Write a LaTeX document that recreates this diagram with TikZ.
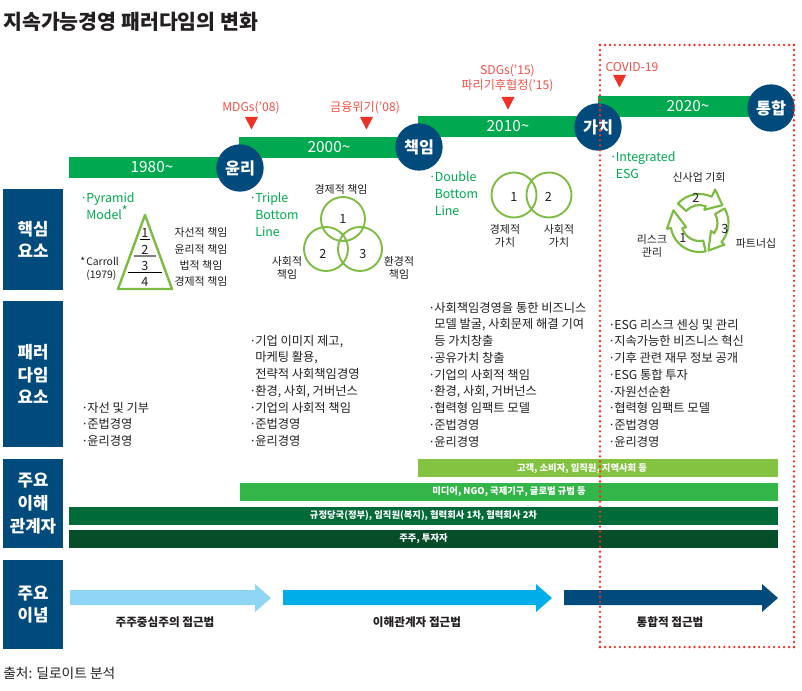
\documentclass[tikz,border=0pt]{standalone}
\usepackage{fontspec}
\setmainfont{Noto Sans CJK KR}
\usetikzlibrary{arrows,backgrounds}
\definecolor{navy}{HTML}{004A7C}
\definecolor{barGreen}{HTML}{00A84F}
\definecolor{leafGreen}{HTML}{7DBB42}
\definecolor{eventRed}{HTML}{EE3124}
\definecolor{inkGray}{HTML}{231F20}
\definecolor{skyBlue}{HTML}{8FD6F5}
\definecolor{oceanBlue}{HTML}{00ADE8}
\definecolor{stakeA}{HTML}{84C341}
\definecolor{stakeB}{HTML}{33B549}
\definecolor{stakeC}{HTML}{006B38}
\definecolor{stakeD}{HTML}{064D2A}
\newcommand{\dotitem}{\makebox[4.5pt][l]{·}}
\newcommand{\dotcont}{\hspace*{4.5pt}}
\tikzset{
  basetext/.style={inner sep=0pt,text=inkGray,align=center,yshift=-0.6pt},
  listtext/.style={basetext,anchor=north west,align=left,font=\fontsize{9.2}{12.55}\selectfont},
  greentext/.style={basetext,anchor=north west,align=left,text=barGreen,font=\fontsize{9.3}{12.7}\selectfont},
  smalltext/.style={basetext,font=\fontsize{8.2}{10.2}\selectfont},
  numtext/.style={basetext,font=\fontsize{9.5}{11}\selectfont},
  redtext/.style={basetext,text=eventRed!85!white,font=\fontsize{9.1}{11.2}\selectfont},
  sidebox/.style={fill=navy,text=white,minimum width=45pt,inner sep=0pt,align=center,font=\fontsize{12.6}{17}\selectfont\bfseries},
  yearbar/.style={fill=barGreen,text=white,minimum height=15.75pt,inner sep=0pt,font=\fontsize{11.5}{12}\selectfont},
  stageball/.style={circle,fill=navy,text=white,minimum size=35.5pt,inner sep=0pt,font=\fontsize{12.2}{13}\selectfont\bfseries},
  stakebar/.style={minimum height=13.5pt,inner sep=0pt,text=white,font=\fontsize{7}{8}\selectfont\bfseries},
  aimtext/.style={basetext,font=\fontsize{8.7}{10}\selectfont\bfseries},
  ring/.style={draw=leafGreen,line width=1.4pt},
}
\begin{document}
\begin{tikzpicture}[x=0.75pt,y=-0.75pt,join=round] % Paradigm Chart
   \useasboundingbox (0,0) rectangle (802,691);
   \node[basetext,anchor=west,font=\fontsize{15.4}{17}\selectfont\bfseries] (title) at (3,21) {지속가능경영 패러다임의 변화};
   % Side Boxes
   \node[sidebox,minimum height=75.75pt] (core) at (33,239.5) {핵심\\요소};
   \node[sidebox,minimum height=109.5pt] (para) at (33,374) {패러\\다임\\요소};
   \node[sidebox,minimum height=66.75pt] (stake) at (33,503.5) {주요\\이해\\관계자};
   \node[sidebox,minimum height=66.75pt] (idea) at (33,604.5) {주요\\이념};
   % Timeline
   \node[yearbar,minimum width=124.5pt] (bara) at (152,167.5) {1980\textasciitilde};
   \node[yearbar,minimum width=135pt] (barb) at (329,147.5) {2000\textasciitilde};
   \node[yearbar,minimum width=135pt] (barc) at (508,126.5) {2010\textasciitilde};
   \node[yearbar,minimum width=135pt] (bard) at (688,106.5) {2020\textasciitilde};
   \node[stageball] (ballb) at (240,168) {윤리};
   \node[stageball] (ballc) at (419,147) {책임};
   \node[stageball] (balld) at (598,127) {가치};
   \node[stageball] (balle) at (771,108) {통합};
   % Events
   \node[redtext] (mdg) at (251,107) {MDGs(’08)};
   \node[redtext] (crisis) at (365,107) {금융위기(’08)};
   \node[redtext] (sdg) at (507.5,77) {SDGs(’15)\\파리기후협정(’15)};
   \node[redtext] (covid) at (632,66) {COVID-19};
   \foreach \tx/\ty in {251.5/117,366.5/117,508/97,619.5/75}
      \fill[eventRed] (\tx-6.5,\ty)--(\tx+6.5,\ty)--(\tx,\ty+12.5)--cycle;
   % Pyramid
   \node[greentext] (pyr) at (80,191.5) {\dotitem Pyramid\\\dotcont Model\raisebox{3pt}{*}};
   \node[basetext,anchor=north west,align=left,font=\fontsize{7.8}{9.8}\selectfont] (carroll) at (80,256) {\makebox[4.5pt][l]{*}Carroll\\\hspace*{4.5pt}(1979)};
   \draw[ring,line width=1.8pt] (145,215)--(172,289)--(118,289)--cycle;
   \draw[line width=.7pt] (140,239)--(150,239);
   \draw[line width=.9pt,black!50] (134,256)--(156,256);
   \draw[line width=.7pt] (128,272)--(162,272);
   \node[numtext] (pa) at (145,232) {1};
   \node[numtext] (pb) at (145,249) {2};
   \node[numtext] (pc) at (145,265) {3};
   \node[numtext] (pd) at (145,281) {4};
   \node[smalltext] (la) at (201,232) {자선적 책임};
   \node[smalltext] (lb) at (201,249) {윤리적 책임};
   \node[smalltext] (lc) at (201,265) {법적 책임};
   \node[smalltext] (ld) at (201,281) {경제적 책임};
   % Triple Bottom Line
   \node[greentext] (tbl) at (249,191.5) {\dotitem Triple\\\dotcont Bottom\\\dotcont Line};
   \draw[ring] (343,219) circle (22) (326,249) circle (22) (360,249) circle (22);
   \node[numtext] (ta) at (343,218) {1};
   \node[numtext] (tb) at (323,253) {2};
   \node[numtext] (tc) at (363,253) {3};
   \node[smalltext] (te) at (341,189) {경제적 책임};
   \node[smalltext] (ts) at (287,267) {사회적\\책임};
   \node[smalltext] (tv) at (399,267) {환경적\\책임};
   % Double Bottom Line
   \node[greentext] (dbl) at (428.5,170.5) {\dotitem Double\\\dotcont Bottom\\\dotcont Line};
   \draw[ring] (514,195) circle (22.5) (549,195) circle (22.5);
   \node[numtext] (da) at (514,196) {1};
   \node[numtext] (db) at (548.5,196) {2};
   \node[smalltext] (de) at (505,235) {경제적\\가치};
   \node[smalltext] (ds) at (559,235) {사회적\\가치};
   % Integrated ESG
   \node[greentext] (esg) at (609.5,150.5) {\dotitem Integrated\\\dotcont ESG};
   \begin{scope}[shift={(699.5,223)},y=0.75pt]
      \foreach \t/\b/\e/\i/\o in {138/65/38/70/37,30/-41/-72/-35/33,-78/-170/-206/-163/33}
         \draw[leafGreen,line width=1.6pt,fill=white] (\t:29) arc (\t:\b:29) -- (\b:\o) -- (\e:29) -- (\i:14) -- (\i:18) arc (\i:\t:18) -- cycle;
   \end{scope}
   \node[numtext] (ib) at (696,197) {2};
   \node[numtext] (ic) at (725,228) {3};
   \node[numtext] (ia) at (683,237) {1};
   \node[smalltext] (io) at (699,177) {신사업 기회};
   \node[smalltext] (ir) at (652,245) {리스크\\관리};
   \node[smalltext] (ip) at (756,243) {파트너십};
   % Paradigm Lists
   \node[listtext] (lista) at (81,401) {\dotitem 자선 및 기부\\\dotitem 준법경영\\\dotitem 윤리경영};
   \node[listtext] (listb) at (249,334) {\dotitem 기업 이미지 제고,\\\dotcont 마케팅 활용,\\\dotcont 전략적 사회책임경영\\\dotitem 환경, 사회, 거버넌스\\\dotitem 기업의 사회적 책임\\\dotitem 준법경영\\\dotitem 윤리경영};
   \node[listtext] (listc) at (428,301) {\dotitem 사회책임경영을 통한 비즈니스\\\dotcont 모델 발굴, 사회문제 해결 기여\\\dotcont 등 가치창출\\\dotitem 공유가치 창출\\\dotitem 기업의 사회적 책임\\\dotitem 환경, 사회, 거버넌스\\\dotitem 협력형 임팩트 모델\\\dotitem 준법경영\\\dotitem 윤리경영};
   \node[listtext] (listd) at (608,318) {\dotitem ESG 리스크 센싱 및 관리\\\dotitem 지속가능한 비즈니스 혁신\\\dotitem 기후 관련 재무 정보 공개\\\dotitem ESG 통합 투자\\\dotitem 자원선순환\\\dotitem 협력형 임팩트 모델\\\dotitem 준법경영\\\dotitem 윤리경영};
   % Stakeholders
   \node[stakebar,fill=stakeA,minimum width=270pt] (stka) at (598,468) {};
   \node[stakebar] (stkat) at (582,468.5) {고객, 소비자, 임직원, 지역사회 등};
   \node[stakebar,fill=stakeB,minimum width=403.5pt] (stkb) at (509,492) {미디어, NGO, 국제기구, 글로벌 규범 등};
   \node[stakebar,fill=stakeC,minimum width=531.75pt] (stkc) at (423.5,516) {규정당국(정부), 임직원(복지), 협력회사 1차, 협력회사 2차};
   \node[stakebar,fill=stakeD,minimum width=531.75pt] (stkd) at (423.5,539) {주주, 투자자};
   % Approach Arrows
   \foreach \xa/\xb/\xc/\col in {70/255/271/skyBlue,283/536/552/oceanBlue,564/762/778/navy}
      \fill[fill=\col] (\xa,590)--(\xb,590)--(\xb,584)--(\xc,598)--(\xb,612)--(\xb,605)--(\xa,605)--cycle;
   \node[aimtext] (aima) at (165,621) {주주중심주의 접근법};
   \node[aimtext] (aimb) at (417,621) {이해관계자 접근법};
   \node[aimtext] (aimc) at (670,621) {통합적 접근법};
   \node[basetext,anchor=west,font=\fontsize{10.3}{12}\selectfont] (source) at (3,673) {출처: 딜로이트 분석};
   % Dotted Frame
   \foreach \k in {0,...,39} {
      \fill[eventRed] (600+\k*4.974,45) circle (1.3);
      \fill[eventRed] (600+\k*4.974,647) circle (1.3);
   }
   \foreach \k in {0,...,120} {
      \fill[eventRed] (600,45+\k*5.017) circle (1.3);
      \fill[eventRed] (794,45+\k*5.017) circle (1.3);
   }
\end{tikzpicture}
\end{document}
